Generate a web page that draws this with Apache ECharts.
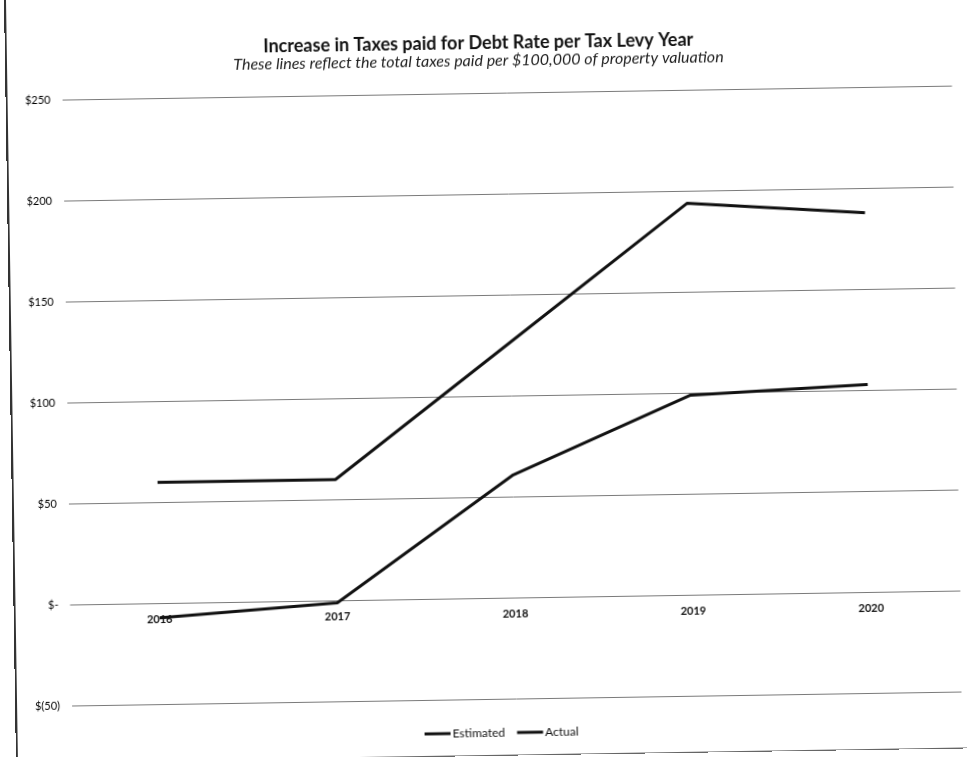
<!DOCTYPE html>
<html>
<head>
<meta charset="utf-8">
<script src="https://cdn.jsdelivr.net/npm/echarts@6/dist/echarts.min.js"></script>
<style>
	html, body { margin: 0; padding: 0; background: #fff; overflow: hidden; }
	#page {
		position: absolute; left: 0; top: 0; width: 967px; height: 757px;
		transform: rotate(-0.9deg); transform-origin: 50% 50%;
	}
	#chart { position: absolute; left: 0; top: 0; width: 967px; height: 757px; }
	#frame {
		position: absolute; left: 10px; top: -30px; width: 1000px; height: 785px;
		border-left: 2px solid #333; border-bottom: 1px solid #666;
		pointer-events: none;
	}
</style>
</head>
<body>
<div id="page">
	<div id="chart"></div>
	<div id="frame"></div>
</div>
<script>
const years = ["2016", "2017", "2018", "2019", "2020"];
const estimated = [60, 60, 127, 194, 188];
const actual = [-7, -1, 61, 99, 103];

const yTicks = [-50, 0, 50, 100, 150, 200, 250];
const yTickLabels = ["$(50)", "$-", "$50", "$100", "$150", "$200", "$250"];

const chart = echarts.init(document.getElementById("chart"), null, { width: 967, height: 757 });

const lineStyle = { color: "#111", width: 3 };

chart.setOption({
	animation: false,
	backgroundColor: "#fff",
	title: {
		text    : "Increase in Taxes paid for Debt Rate per Tax Levy Year",
		subtext : "These lines reflect the total taxes paid per $100,000 of property valuation",
		left    : "center",
		top     : 29,
		itemGap : 1,
		textStyle: {
			fontFamily : "Lato",
			fontWeight : "bold",
			fontSize   : 18,
			color      : "#111",
		},
		subtextStyle: {
			fontFamily : "Lato",
			fontStyle  : "italic",
			fontSize   : 16,
			color      : "#222",
		},
	},
	legend: {
		left      : 414,
		top       : 722,
		icon      : "rect",
		itemWidth : 26,
		itemHeight: 3,
		itemGap   : 12,
		data      : ["Estimated", "Actual"],
		textStyle : {
			fontFamily : "Lato",
			fontSize   : 12,
			color      : "#111",
			padding    : [0, 0, 0, -3],
		},
	},
	grid: {
		left   : 67,
		right  : 10.5,
		top    : 93.5,
		bottom : 57.5,
	},
	xAxis: {
		type        : "category",
		data        : years,
		boundaryGap : true,
		offset      : -101,
		axisLine    : {
			onZero    : false,
			lineStyle : { color: "#7a7a7a", width: 1 },
		},
		axisTick  : { show: false },
		axisLabel : {
			margin     : 10,
			fontFamily : "Lato",
			fontWeight : "bold",
			fontSize   : 11,
			color      : "#111",
		},
	},
	yAxis: {
		type     : "value",
		min      : -50,
		max      : 250,
		interval : 50,
		axisLine : { show: false },
		axisTick : { show: false },
		splitLine: {
			lineStyle: { color: "#7a7a7a", width: 1 },
		},
		axisLabel: {
			margin     : 12,
			fontFamily : "Lato",
			fontSize   : 11,
			color      : "#000",
			formatter  : (v) => yTickLabels[yTicks.indexOf(v)],
		},
	},
	series: [
		{
			name       : "Estimated",
			type       : "line",
			data       : estimated,
			symbol     : "none",
			color      : "#111",
			lineStyle  : lineStyle,
		},
		{
			name       : "Actual",
			type       : "line",
			data       : actual,
			symbol     : "none",
			color      : "#111",
			lineStyle  : lineStyle,
		},
	],
});
</script>
</body>
</html>
